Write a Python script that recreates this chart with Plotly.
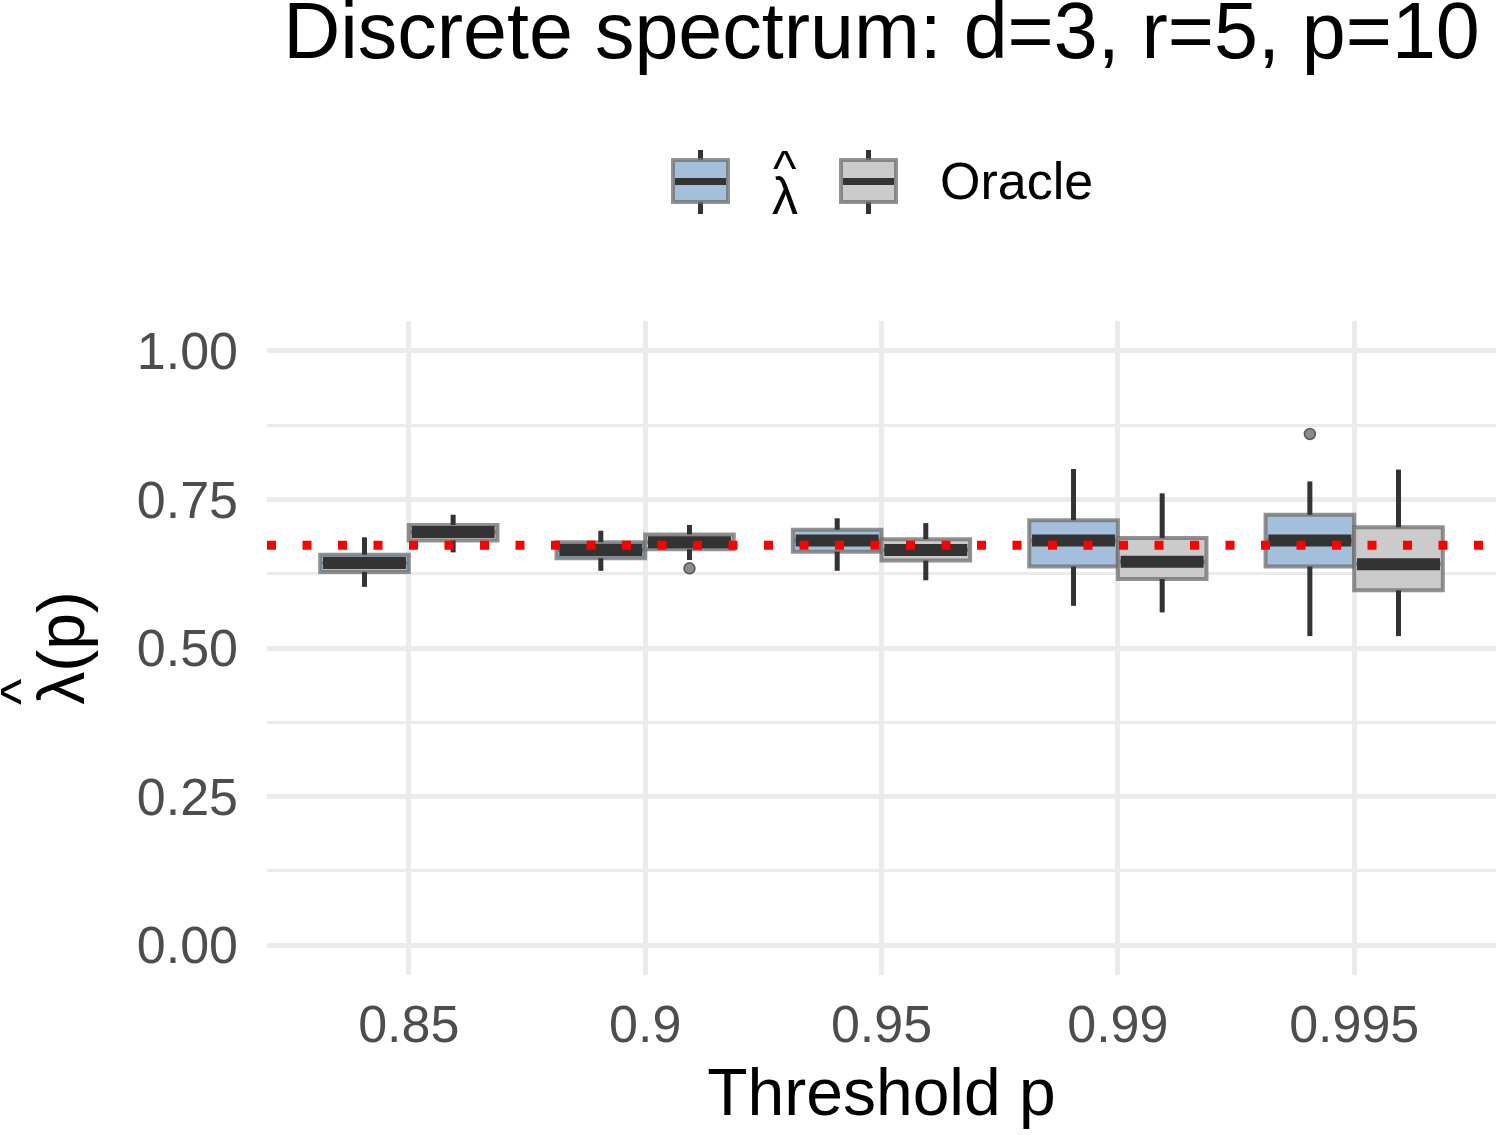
import plotly.graph_objects as go

# ---- data ----
thresholds = ["0.85", "0.9", "0.95", "0.99", "0.995"]

lam_q1 = [0.628, 0.651, 0.662, 0.637, 0.637]
lam_med = [0.643, 0.665, 0.681, 0.681, 0.681]
lam_q3 = [0.657, 0.678, 0.699, 0.715, 0.724]
lam_lo = [0.603, 0.630, 0.630, 0.571, 0.520]
lam_hi = [0.686, 0.697, 0.718, 0.801, 0.780]

ora_q1 = [0.681, 0.666, 0.647, 0.616, 0.597]
ora_med = [0.695, 0.678, 0.665, 0.645, 0.641]
ora_q3 = [0.707, 0.691, 0.683, 0.685, 0.703]
ora_lo = [0.661, 0.648, 0.614, 0.560, 0.520]
ora_hi = [0.724, 0.707, 0.710, 0.760, 0.800]

lam_out_x = ["0.995"]
lam_out_y = [0.860]
ora_out_x = ["0.9"]
ora_out_y = [0.634]

true_lambda = 0.673

y_ticks = [0.0, 0.25, 0.5, 0.75, 1.0]
y_ticktext = ["0.00", "0.25", "0.50", "0.75", "1.00"]
y_minor = [0.125, 0.375, 0.625, 0.875]

legend_names = ["λ", "Oracle"]

# ---- styling / geometry ----
FONT = "Liberation Sans, Arial, sans-serif"
W, H = 1496, 1135
ML, MR, MT, MB = 267, 0, 321, 160
PW, PH = W - ML - MR, H - MT - MB
DODGE = 0.1875
BW = 0.375
DARK = "#333333"
BORDER = "rgba(110,110,110,0.75)"
FILLS = ["#A3BFDB", "#CBCBCB"]
idx = {t: i for i, t in enumerate(thresholds)}


def px_x(p):
    return (p - ML) / PW


def px_y(p):
    return (H - MB - p) / PH


series = [
    (-DODGE, FILLS[0], lam_q1, lam_med, lam_q3, lam_lo, lam_hi, lam_out_x, lam_out_y),
    (DODGE, FILLS[1], ora_q1, ora_med, ora_q3, ora_lo, ora_hi, ora_out_x, ora_out_y),
]

fig = go.Figure()

for off, fill, q1, med, q3, lo, hi, ox, oy in series:
    xs = [i + off for i in range(len(thresholds))]
    fig.add_trace(go.Box(
        x=xs, q1=q1, median=med, q3=q3,
        lowerfence=lo, upperfence=hi,
        width=BW, fillcolor=fill,
        line=dict(color=BORDER, width=4),
        whiskerwidth=0, boxpoints=False, showlegend=False,
    ))

for off, fill, q1, med, q3, lo, hi, ox, oy in series:
    xs = [i + off for i in range(len(thresholds))]
    wx, wy, mx, my = [], [], [], []
    for x, a, m, b, l, h in zip(xs, q1, med, q3, lo, hi):
        wx += [x, x, None, x, x, None]
        wy += [b, h, None, a, l, None]
        mx += [x - BW / 2 + 0.012, x + BW / 2 - 0.012, None]
        my += [m, m, None]
    fig.add_trace(go.Scatter(x=wx, y=wy, mode="lines",
                             line=dict(color=DARK, width=5),
                             showlegend=False, hoverinfo="skip"))
    fig.add_trace(go.Scatter(x=mx, y=my, mode="lines",
                             line=dict(color=DARK, width=12),
                             showlegend=False, hoverinfo="skip"))
    fig.add_trace(go.Scatter(x=[idx[t] + off for t in ox], y=oy, mode="markers",
                             marker=dict(color="rgba(110,110,110,0.8)", size=11,
                                         line=dict(color="rgba(60,60,60,0.8)", width=1.5)),
                             showlegend=False, hoverinfo="skip"))

fig.add_trace(go.Scatter(x=[-0.6, 4.6], y=[true_lambda, true_lambda], mode="lines",
                         line=dict(color="#FF0000", width=9, dash="9px,26.5px"),
                         showlegend=False, hoverinfo="skip"))

# ---- custom legend (ggplot-style box keys) ----
shapes = []
annotations = []
key_left = [671, 839]
for kl, fill in zip(key_left, FILLS):
    kc = kl + 29.5
    shapes.append(dict(type="line", xref="paper", yref="paper",
                       x0=px_x(kc), x1=px_x(kc), y0=px_y(150), y1=px_y(214),
                       line=dict(color=DARK, width=5)))
    shapes.append(dict(type="rect", xref="paper", yref="paper",
                       x0=px_x(kl + 2), x1=px_x(kl + 57), y0=px_y(160), y1=px_y(202),
                       fillcolor=fill, line=dict(color=BORDER, width=4)))
    shapes.append(dict(type="line", xref="paper", yref="paper",
                       x0=px_x(kl + 4), x1=px_x(kl + 55), y0=px_y(181.5), y1=px_y(181.5),
                       line=dict(color=DARK, width=7)))

annotations.append(dict(text=legend_names[0], xref="paper", yref="paper",
                        x=px_x(785), y=px_y(196), xanchor="center", yanchor="middle",
                        showarrow=False, font=dict(size=52, family=FONT, color="black")))
annotations.append(dict(text="^", xref="paper", yref="paper",
                        x=px_x(785), y=px_y(168), xanchor="center", yanchor="middle",
                        showarrow=False, font=dict(size=50, family=FONT, color="black")))
annotations.append(dict(text=legend_names[1], xref="paper", yref="paper",
                        x=px_x(938), y=px_y(181), xanchor="left", yanchor="middle",
                        showarrow=False, font=dict(size=52, family=FONT, color="black")))
# hat of the y-axis title
annotations.append(dict(text="^", xref="paper", yref="paper",
                        x=px_x(19), y=px_y(692), xanchor="center", yanchor="middle",
                        textangle=-90, showarrow=False,
                        font=dict(size=56, family=FONT, color="black")))

fig.update_layout(
    width=W, height=H,
    margin=dict(l=ML, r=MR, t=MT, b=MB, autoexpand=False),
    paper_bgcolor="white", plot_bgcolor="white",
    font=dict(family=FONT, color="black"),
    showlegend=False,
    shapes=shapes,
    annotations=annotations,
    title=dict(text="Discrete spectrum: d=3, r=5, p=10",
               font=dict(size=79, family=FONT, color="black"),
               x=0.5, xref="paper", xanchor="center",
               y=0.9975, yref="container", yanchor="top"),
    xaxis=dict(range=[-0.6, 4.6], tickvals=list(range(len(thresholds))),
               ticktext=thresholds, showgrid=True, gridcolor="#EBEBEB", gridwidth=4.5,
               zeroline=False, showline=False, ticks="",
               tickfont=dict(size=52, family=FONT, color="#4D4D4D"),
               ticklabelstandoff=14,
               title=dict(text="Threshold p", font=dict(size=66, family=FONT, color="black"),
                          standoff=16)),
    yaxis=dict(range=[-0.05, 1.05], tickvals=y_ticks, ticktext=y_ticktext,
               showgrid=True, gridcolor="#EBEBEB", gridwidth=4.5,
               minor=dict(tickvals=y_minor, showgrid=True, gridcolor="#EBEBEB",
                          gridwidth=2.5, ticks=""),
               zeroline=False, showline=False, ticks="",
               tickfont=dict(size=52, family=FONT, color="#4D4D4D"),
               ticklabelstandoff=28,
               title=dict(text="λ(p)", font=dict(size=66, family=FONT, color="black"),
                          standoff=30)),
)

fig.write_html("out.html")
